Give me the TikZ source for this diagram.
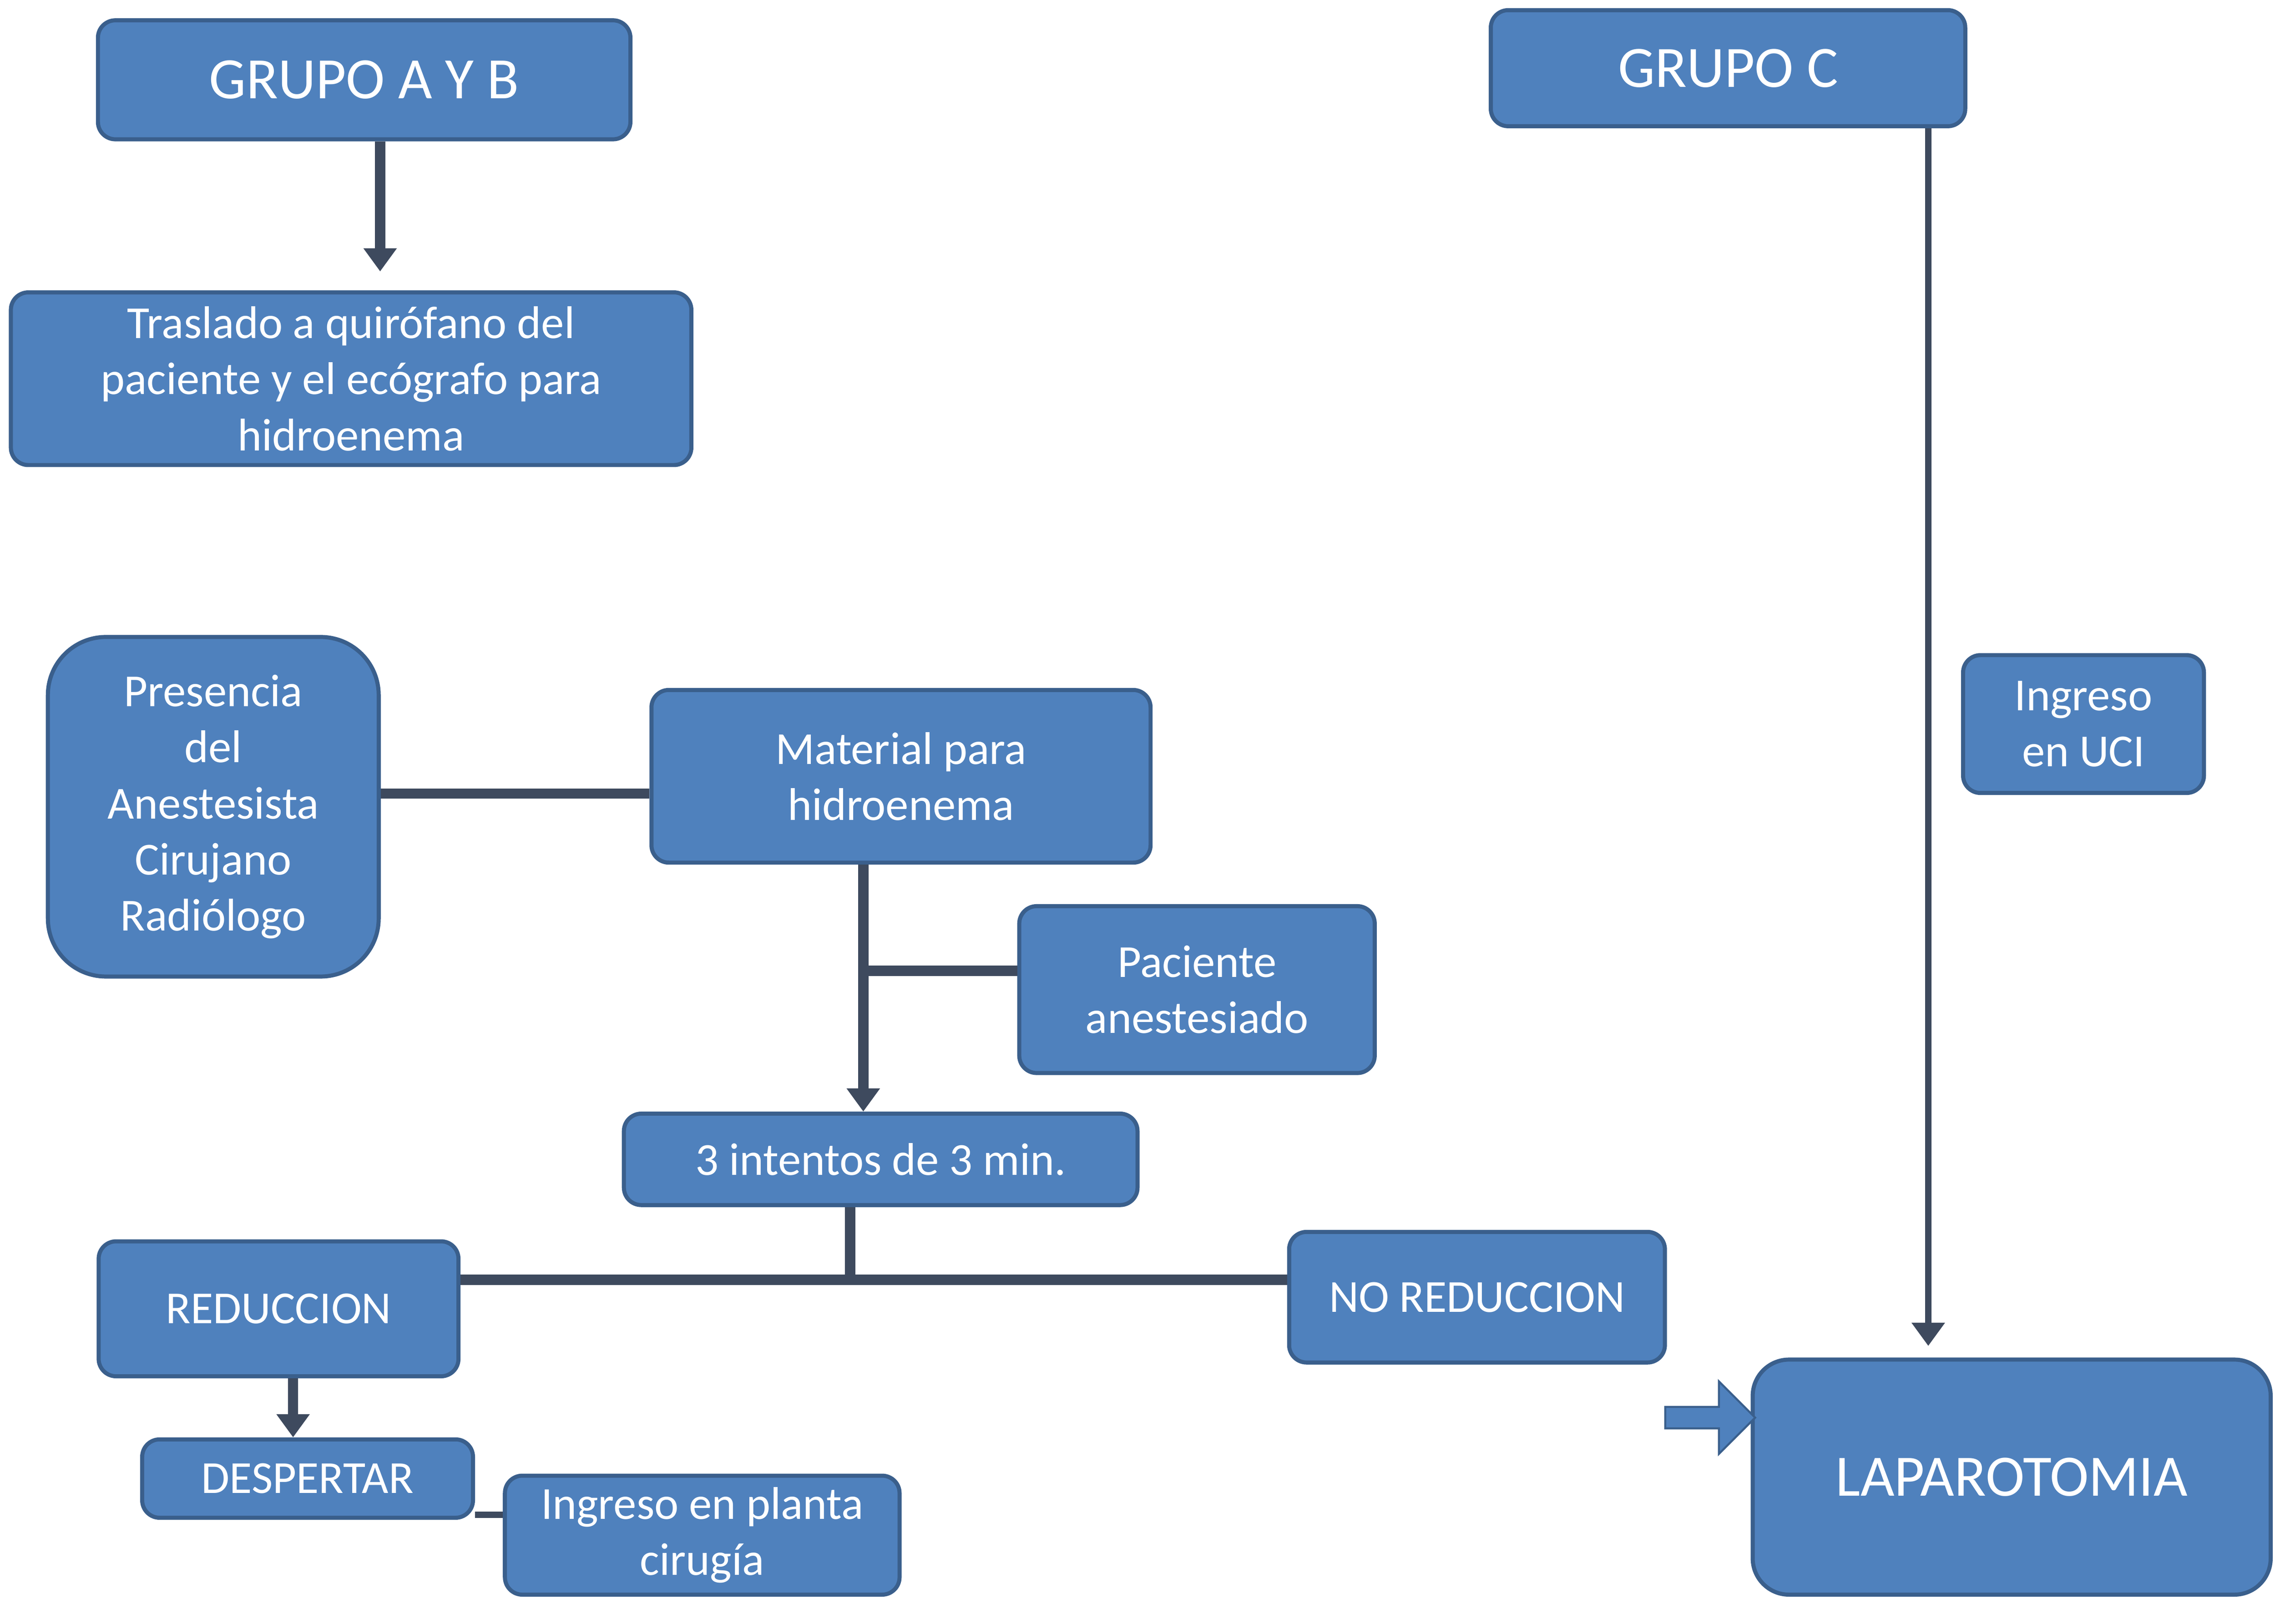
\documentclass[tikz,border=0pt]{standalone}
\usepackage{fontspec}
\setmainfont{Carlito}
\usetikzlibrary{shapes.arrows, arrows.meta}
\definecolor{caja}{HTML}{4F81BD}
\definecolor{borde}{HTML}{3A5F8C}
\definecolor{linea}{HTML}{3E4A5E}
\begin{document}
\begin{tikzpicture}[
        caja/.style={draw=borde, fill=caja, line width=0.8pt, rounded corners=0.12cm,
            text=white, align=center, font=\fontsize{9}{11}\selectfont, inner sep=2pt},
        conn/.style={draw=linea, line width=2pt},
        fino/.style={draw=linea, line width=1.2pt},
        punta/.style={-{Triangle[length=1.6mm, width=2.2mm]}}]
            \useasboundingbox (0, 0) rectangle (15.68, 11.19);
            % cajas
            \node[caja, minimum width=3.67cm, minimum height=0.82cm, font=\fontsize{11.5}{13}\selectfont] (gab) at (2.51, 10.64) {GRUPO A Y B};
            \node[caja, minimum width=3.27cm, minimum height=0.80cm, font=\fontsize{11.5}{13}\selectfont] (gc) at (11.91, 10.72) {GRUPO C};
            \node[caja, minimum width=4.69cm, minimum height=1.19cm] (tras) at (2.42, 8.58) {Traslado a quirófano del\\paciente y el ecógrafo para\\hidroenema};
            \node[caja, minimum width=2.28cm, minimum height=2.34cm, rounded corners=0.4cm] (pres) at (1.47, 5.63) {Presencia\\del\\Anestesista\\Cirujano\\Radiólogo};
            \node[caja, minimum width=3.44cm, minimum height=1.19cm] (mat) at (6.21, 5.84) {Material para\\hidroenema};
            \node[caja, minimum width=2.45cm, minimum height=1.15cm] (pac) at (8.25, 4.37) {Paciente\\anestesiado};
            \node[caja, minimum width=3.54cm, minimum height=0.63cm] (int) at (6.07, 3.20) {3 intentos de 3 min.};
            \node[caja, minimum width=2.48cm, minimum height=0.93cm] (red) at (1.92, 2.17) {REDUCCION};
            \node[caja, minimum width=2.59cm, minimum height=0.90cm] (nored) at (10.18, 2.25) {NO REDUCCION};
            \node[caja, minimum width=2.28cm, minimum height=0.54cm] (desp) at (2.12, 1.00) {DESPERTAR};
            \node[caja, minimum width=2.72cm, minimum height=0.82cm] (ipl) at (4.84, 0.61) {Ingreso en planta\\cirugía};
            \node[caja, minimum width=1.66cm, minimum height=0.95cm] (uci) at (14.36, 6.20) {Ingreso\\en UCI};
            \node[caja, minimum width=3.57cm, minimum height=1.62cm, rounded corners=0.25cm, font=\fontsize{11.5}{13}\selectfont] (lap) at (13.865, 1.01) {LAPAROTOMIA};
            \node[single arrow, draw=borde, fill=caja, minimum width=0.5cm, minimum height=0.62cm,
                single arrow head extend=0.1cm, inner sep=1pt] (flecha) at (11.75, 1.42) {};
            % conexiones
            \coordinate (mj) at (5.95, 4.50);
            \coordinate (bar) at (5.86, 2.37);
            \draw[conn, punta] ([xshift=0.11cm]gab.south) -- ([xshift=0.2cm, yshift=0.13cm]tras.north);
            \draw[fino, punta] ([xshift=1.38cm]gc.south) -- ([xshift=1.38cm, yshift=0.08cm]gc.south |- lap.north);
            \draw[conn] ([yshift=0.09cm]pres.east) -- ([yshift=0.09cm]pres.east -| mat.west);
            \draw[conn, punta] ([xshift=-0.26cm]mat.south) -- ([xshift=-0.26cm]mat.south |- int.north);
            \draw[conn] (pac.west |- mj) -- (mj);
            \draw[conn] (int.south -| bar) -- (bar);
            \draw[conn] (red.east |- bar) -- (nored.west |- bar);
            \draw[conn, punta] ([xshift=0.1cm]red.south) -- ([xshift=0.1cm]red.south |- desp.north);
            \draw[fino] ([yshift=-0.25cm]desp.east) -- ([yshift=-0.25cm]desp.east -| ipl.west);
        \end{tikzpicture}
\end{document}
